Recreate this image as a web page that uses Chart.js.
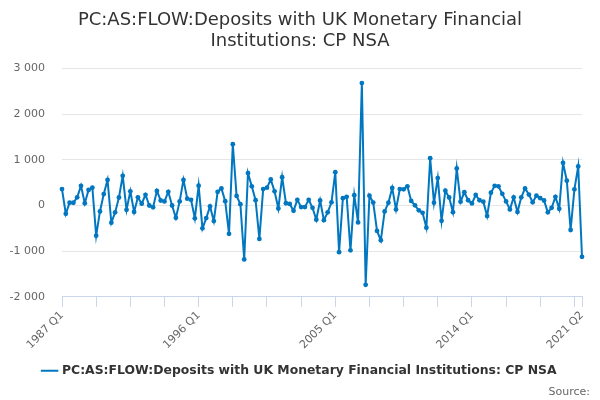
<!DOCTYPE html>
<html>
<head>
<meta charset="utf-8">
<script src="https://cdn.jsdelivr.net/npm/chart.js@4"></script>
<style>
  html, body { margin: 0; padding: 0; background: #fff; }
  #wrap { width: 600px; height: 400px; }
</style>
</head>
<body>
<div id="wrap"><canvas id="myChart"></canvas></div>
<script>
// quarters 1987 Q1 .. 2021 Q2
var firstYear = 1987;
var quarters = [];
for (var y = firstYear; y <= 2021; y++) {
    for (var q = 1; q <= 4; q++) {
        if (y == 2021 && q > 2) break;
        quarters.push(y + ' Q' + q);
    }
}

// values (£m)
var deposits = [
    360, -180, 60, 60, 180, 430, 50, 340, 390, -660,
    -130, 250, 560, -375, -150, 175, 650, -95, 310, -140,
    180, 40, 235, 0, -40, 320, 110, 90, 300, 0,
    -270, 90, 560, 150, 125, -280, 435, -500, -275, -20,
    -340, 300, 375, 95, -620, 1340, 210, 30, -1180, 710,
    420, 115, -730, 360, 390, 570, 310, -65, 620, 50,
    35, -115, 125, -35, -35, 125, -50, -310, 110, -320,
    -150, 70, 730, -1020, 160, 190, -980, 225, -370, 2680,
    -1735, 215, 65, -555, -760, -130, 60, 385, -85, 360,
    355, 420, 100, 5, -105, -160, -485, 1035, 60, 600,
    -335, 325, 175, -145, 810, 85, 290, 115, 45, 230,
    115, 85, -230, 280, 430, 420, 255, 90, -85, 180,
    -140, 180, 375, 240, 72, 215, 160, 110, -150, -50,
    190, -72, 935, 543, -536, 355, 855, -1123
];

var yTicks = [-2000, -1000, 0, 1000, 2000, 3000];
var seriesName = 'PC:AS:FLOW:Deposits with UK Monetary Financial Institutions: CP NSA';
var titleLines = ['PC:AS:FLOW:Deposits with UK Monetary Financial', 'Institutions: CP NSA'];
var creditText = 'Source:';

var lastIdx = quarters.length - 1;

function spaced(v) {
    return String(v).replace(/\B(?=(\d{3})+(?!\d))/g, ' ');
}

// "Source:" credit in the bottom right corner
var creditPlugin = {
    id: 'credit',
    afterDraw: function (c) {
        var g = c.ctx;
        g.save();
        g.font = '11px "DejaVu Sans", sans-serif';
        g.fillStyle = '#666666';
        g.textAlign = 'right';
        g.textBaseline = 'middle';
        g.fillText(creditText, 590, 392);
        g.restore();
    }
};

Chart.defaults.font.family = '"DejaVu Sans", sans-serif';

var ctx = document.getElementById('myChart').getContext('2d');
var chart = new Chart(ctx, {
    type: 'line',
    data: {
        labels: quarters,
        datasets: [{
            label: seriesName,
            data: deposits,
            borderColor: '#0077c0',
            backgroundColor: '#0077c0',
            borderWidth: 2,
            pointRadius: 2.4,
            pointBorderWidth: 0,
            pointHoverRadius: 3,
            tension: 0
        }]
    },
    plugins: [creditPlugin],
    options: {
        responsive: true,
        maintainAspectRatio: false,
        animation: false,
        layout: { padding: { left: 0, right: 0, top: 6, bottom: 13 } },
        plugins: {
            title: {
                display: true,
                text: titleLines,
                color: '#333333',
                font: { size: 18, weight: 'normal', lineHeight: 1.15 },
                padding: { top: 4, bottom: 17 }
            },
            legend: {
                position: 'bottom',
                labels: {
                    color: '#333333',
                    font: { size: 12.4, weight: 'bold' },
                    usePointStyle: true,
                    pointStyle: 'line',
                    boxWidth: 16,
                    padding: 11,
                    generateLabels: function (c) {
                        var items = Chart.defaults.plugins.legend.labels.generateLabels(c);
                        items.forEach(function (it) {
                            it.lineWidth = 2;
                            it.strokeStyle = '#0077c0';
                        });
                        return items;
                    }
                }
            },
            tooltip: { enabled: false }
        },
        scales: {
            x: {
                afterBuildTicks: function (axis) {
                    axis.ticks = axis.ticks.filter(function (t) {
                        return t.value % 9 == 0 || t.value == lastIdx;
                    });
                },
                ticks: {
                    autoSkip: false,
                    maxRotation: 45,
                    minRotation: 45,
                    color: '#666666',
                    font: { size: 11 },
                    padding: 2,
                    callback: function (val, i) {
                        if (val % 36 == 0 || val == lastIdx) return quarters[val];
                        return '';
                    }
                },
                grid: {
                    drawOnChartArea: false,
                    drawTicks: true,
                    tickLength: 10,
                    color: '#ccd6eb'
                },
                border: { color: '#ccd6eb' }
            },
            y: {
                min: -2000,
                max: 3000,
                afterBuildTicks: function (axis) {
                    axis.ticks = yTicks.map(function (v) { return { value: v }; });
                },
                afterFit: function (axis) {
                    axis.width = 62;
                },
                ticks: {
                    color: '#666666',
                    font: { size: 11 },
                    padding: 17,
                    callback: function (v) { return spaced(v); }
                },
                grid: { color: '#e6e6e6', drawTicks: false },
                border: { display: false }
            },
            // empty right-hand axis, only there to leave the right margin
            yRight: {
                position: 'right',
                display: true,
                afterFit: function (axis) {
                    axis.width = 18;
                },
                ticks: { display: false },
                grid: { display: false },
                border: { display: false }
            }
        }
    }
});
</script>
</body>
</html>
